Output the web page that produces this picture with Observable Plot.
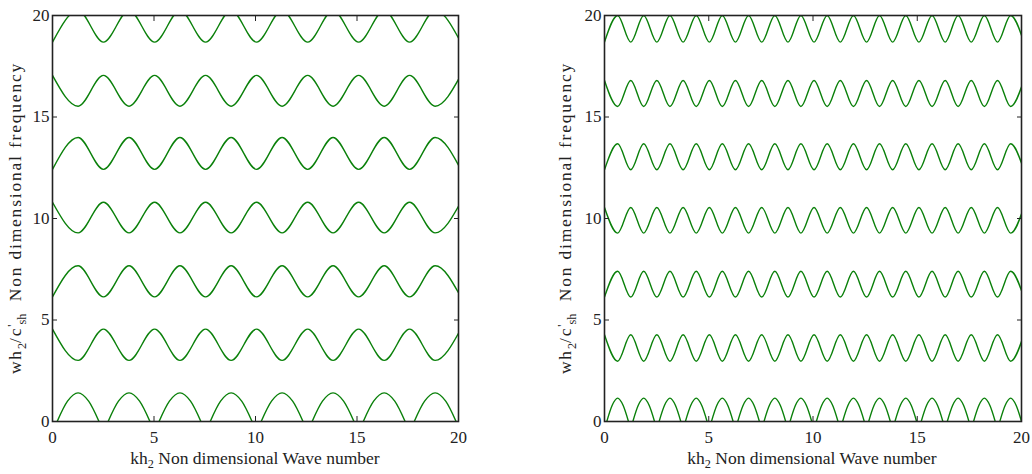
<!DOCTYPE html>
<html><head><meta charset="utf-8">
<script src="https://cdn.jsdelivr.net/npm/d3@7"></script>
<script src="https://cdn.jsdelivr.net/npm/@observablehq/plot@0.6"></script>
<style>
body{margin:0;background:#fff;}
#wrap{position:relative;width:1032px;height:474px;overflow:hidden;font-family:"Liberation Serif","Times New Roman","DejaVu Serif",serif;color:#222;background:#fff;}
#wrap svg text{font-family:"Liberation Serif","Times New Roman","DejaVu Serif",serif;}
.panel{position:absolute;top:0;}
.xlab{position:absolute;font-size:17.5px;line-height:1;white-space:nowrap;transform:translateX(-50%);}
.ylab{position:absolute;font-size:17.5px;line-height:1;white-space:nowrap;letter-spacing:1.8px;transform:translate(-50%,-50%) rotate(-90deg);}
sub{font-size:70%;vertical-align:-0.35em;line-height:0;letter-spacing:0}
sup{font-size:70%;vertical-align:0.45em;line-height:0;letter-spacing:0}
</style></head><body><div id="wrap"></div>
<script>
// ---- data ----
const xTicks = [0, 5, 10, 15, 20];
const yTicks = [0, 5, 10, 15, 20];

// Left panel: k positions of successive extremes (peak/trough alternation)
const kLeft = [0, 1.26, 2.51, 3.77, 5.03, 6.28, 7.54, 8.80, 10.05, 11.31, 12.57, 13.82, 15.08, 16.34, 17.59, 18.85, 20.11];
const lowLeft  = [3.01, 6.14, 9.29, 12.42, 15.53, 18.69];
const highLeft = [4.55, 7.67, 10.80, 13.99, 17.05, 20.25];
const startsHighLeft = [1, 0, 1, 0, 1, 0];
// Left panel lowest band: arches
const archPeaksLeft = [1.26, 3.77, 6.28, 8.80, 11.31, 13.82, 16.34, 18.85];
const archDkLeft = [-1.03, -0.52, 0, 0.52, 1.03];
const archWLeft  = [0, 1.0, 1.41, 1.0, 0];

// Right panel
const kRight = [0, 0.63, 1.26, 1.88, 2.51, 3.14, 3.77, 4.40, 5.03, 5.65, 6.28, 6.91, 7.54, 8.17, 8.80, 9.42, 10.05, 10.68, 11.31, 11.94, 12.57, 13.19, 13.82, 14.45, 15.08, 15.71, 16.34, 16.96, 17.59, 18.22, 18.85, 19.48, 20.11];
const lowRight  = [2.97, 6.13, 9.28, 12.40, 15.52, 18.69];
const highRight = [4.27, 7.40, 10.54, 13.68, 16.80, 20.00];
const startsHighRight = [1, 0, 1, 0, 1, 0];
const archPeaksRight = [0.63, 1.88, 3.14, 4.40, 5.65, 6.91, 8.17, 9.42, 10.68, 11.94, 13.19, 14.45, 15.71, 16.96, 18.22, 19.48];
const archDkRight = [-0.52, -0.26, 0, 0.26, 0.52];
const archWRight  = [0, 0.8, 1.15, 0.8, 0];

const green = "#0a800a";
const serif = "'Liberation Serif', 'Times New Roman', 'DejaVu Serif', serif";

function bandRows(ks, lows, highs, starts) {
  const rows = [];
  lows.forEach((lo, b) => {
    ks.forEach((k, i) => {
      rows.push({band: b, k, w: ((starts[b] === 1) === (i % 2 === 0)) ? highs[b] : lo});
    });
  });
  return rows;
}
function archRows(peaks, dks, ws) {
  const rows = [];
  peaks.forEach((p, a) => dks.forEach((dk, j) => rows.push({arch: a, k: p + dk, w: ws[j]})));
  return rows;
}

function panel(rows, arches, width, ml, mr) {
  return Plot.plot({
    width, height: 474, marginTop: 15, marginBottom: 53, marginLeft: ml, marginRight: mr,
    x: {domain: [0, 20]}, y: {domain: [0, 20]},
    style: {fontFamily: serif, fontSize: "17px", color: "#222", background: "white"},
    marks: [
      Plot.line(rows, {x: "k", y: "w", z: "band", stroke: green, strokeWidth: 1.4, curve: "monotone-x", clip: true}),
      Plot.line(arches, {x: "k", y: "w", z: "arch", stroke: green, strokeWidth: 1.4, curve: "monotone-x", clip: true}),
      Plot.frame({stroke: "#222", strokeWidth: 1.6}),
      Plot.axisX(xTicks, {anchor: "bottom", tickSize: -5, tickPadding: 14, label: null, fontSize: 17}),
      Plot.axisX(xTicks, {anchor: "top", tickSize: -5, tickFormat: () => "", label: null}),
      Plot.axisY(yTicks, {anchor: "left", tickSize: -5, tickPadding: 8, label: null, fontSize: 17}),
      Plot.axisY(yTicks, {anchor: "right", tickSize: -5, tickFormat: () => "", label: null})
    ]
  });
}

const wrap = document.getElementById("wrap");
const left = panel(bandRows(kLeft, lowLeft, highLeft, startsHighLeft), archRows(archPeaksLeft, archDkLeft, archWLeft), 470, 52, 12);
left.classList.add("panel"); left.style.left = "0px";
const right = panel(bandRows(kRight, lowRight, highRight, startsHighRight), archRows(archPeaksRight, archDkRight, archWRight), 512, 84, 11);
right.classList.add("panel"); right.style.left = "520px";
wrap.append(left, right);

function addLabel(cls, html, x, y) {
  const d = document.createElement("div");
  d.className = cls; d.innerHTML = html;
  d.style.left = x + "px"; d.style.top = y + "px";
  wrap.append(d);
}
const xLabel = "kh<sub>2</sub> Non dimensional Wave number";
const yLabel = "wh<sub>2</sub>/c<sup>'</sup><sub>sh</sub>&nbsp; Non dimensional frequency";
addLabel("xlab", xLabel, 255, 450);
addLabel("xlab", xLabel, 812, 450);
addLabel("ylab", yLabel, 16, 218);
addLabel("ylab", yLabel, 566, 218);
</script></body></html>
